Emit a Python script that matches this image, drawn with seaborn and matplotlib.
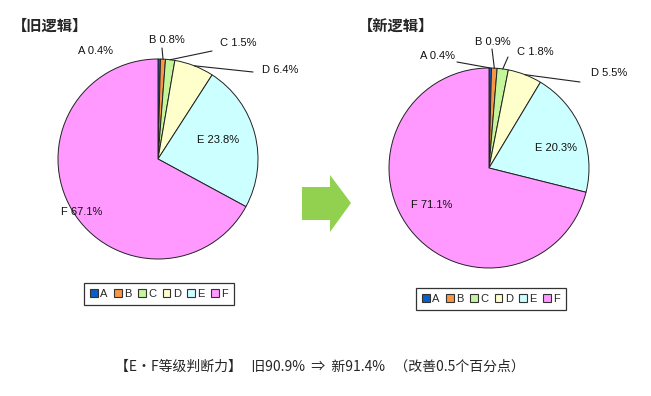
import numpy as np
import matplotlib
matplotlib.use("Agg")
import matplotlib.pyplot as plt
import seaborn as sns
from matplotlib.patches import Polygon, Patch

sns.set_theme(style="white")
plt.rcParams['font.family'] = ['Liberation Sans', 'Noto Sans CJK SC', 'DejaVu Sans']

# ---- data ----
categories = ['A', 'B', 'C', 'D', 'E', 'F']
old_values = [0.4, 0.8, 1.5, 6.4, 23.8, 67.1]
new_values = [0.4, 0.9, 1.8, 5.5, 20.3, 71.1]
old_title = '【旧逻辑】'
new_title = '【新逻辑】'
footer = '【E・F等级判断力】   旧90.9%  ⇒  新91.4%   （改善0.5个百分点）'

colors = ['#0a5fc4', '#f79646', '#c4f59a', '#ffffcc', '#ccffff', '#ff99ff']

W, H = 651, 396
fig = plt.figure(figsize=(W / 100, H / 100), dpi=100)
fig.patch.set_facecolor('white')


def px_axes(cx, cy, r):
    return fig.add_axes([(cx - r) / W, (H - cy - r) / H, 2 * r / W, 2 * r / H])


cjk = ['Noto Sans CJK SC', 'DejaVu Sans']


def draw_pie(ax, values, label_pos, leaders):
    wedges, _ = ax.pie(values, colors=colors, startangle=90, counterclock=False,
                       radius=1.0,
                       wedgeprops=dict(edgecolor='#222222', linewidth=0.7))
    ax.set_xlim(-1.02, 1.02)
    ax.set_ylim(-1.02, 1.02)
    ax.set_aspect('equal')
    ax.axis('off')
    total = sum(values)
    cum = 0
    for i, (cat, v) in enumerate(zip(categories, values)):
        mid = 90 - (cum + v / 2) / total * 360
        cum += v
        px, py = label_pos[i]
        fig.text(px / W, 1 - py / H, f'{cat} {v}%', ha='center', va='center',
                 fontsize=8, color='#111111')
        if leaders[i] is not None:
            lx, ly = leaders[i]
            x = np.cos(np.radians(mid))
            y = np.sin(np.radians(mid))
            ax.annotate('', xy=(x, y), xycoords='data',
                        xytext=(lx, H - ly), textcoords='figure pixels',
                        arrowprops=dict(arrowstyle='-', lw=0.8, color='#222222',
                                        shrinkA=0, shrinkB=0))


# left pie
axL = px_axes(158, 159, 102)
draw_pie(axL, old_values,
         [(95, 51), (167, 40), (238, 43), (280, 70), (218, 140), (82, 212)],
         [None, (162, 48), (212, 51), (253, 72), None, None])

# right pie
axR = px_axes(489, 168, 102)
draw_pie(axR, new_values,
         [(438, 56), (493, 42), (535, 52), (609, 73), (556, 148), (432, 205)],
         [(457, 62), (492, 49), (508, 57), (580, 82), None, None])

# titles
fig.text(12 / W, 1 - 26 / H, old_title, ha='left', va='center', fontsize=11,
         fontweight='bold', family=cjk)
fig.text(358 / W, 1 - 26 / H, new_title, ha='left', va='center', fontsize=11,
         fontweight='bold', family=cjk)

# legends
handles = [Patch(facecolor=c, edgecolor='#333333', linewidth=0.8, label=l)
           for c, l in zip(colors, categories)]
for (cx, cy) in [(159, 294), (491, 299)]:
    leg = fig.legend(handles=handles, loc='center', ncol=6,
                     bbox_to_anchor=(cx / W, 1 - cy / H), fontsize=8,
                     handlelength=0.7, handleheight=0.7, handletextpad=0.2,
                     columnspacing=0.6, borderpad=0.5, frameon=True,
                     fancybox=False, edgecolor='#333333', framealpha=1)
    leg.get_frame().set_linewidth(0.9)

# arrow
arrow_pts = [(302, 187), (330, 187), (330, 175), (351, 203), (330, 232),
             (330, 220), (302, 220)]
fig.patches.append(Polygon([(x / W, 1 - y / H) for x, y in arrow_pts],
                           closed=True, transform=fig.transFigure,
                           facecolor='#92d050', edgecolor='none'))

# footer
fig.text(320 / W, 1 - 367 / H, footer, ha='center', va='center', fontsize=10,
         family=cjk)

fig.savefig('out.png', dpi=100, facecolor='white')
